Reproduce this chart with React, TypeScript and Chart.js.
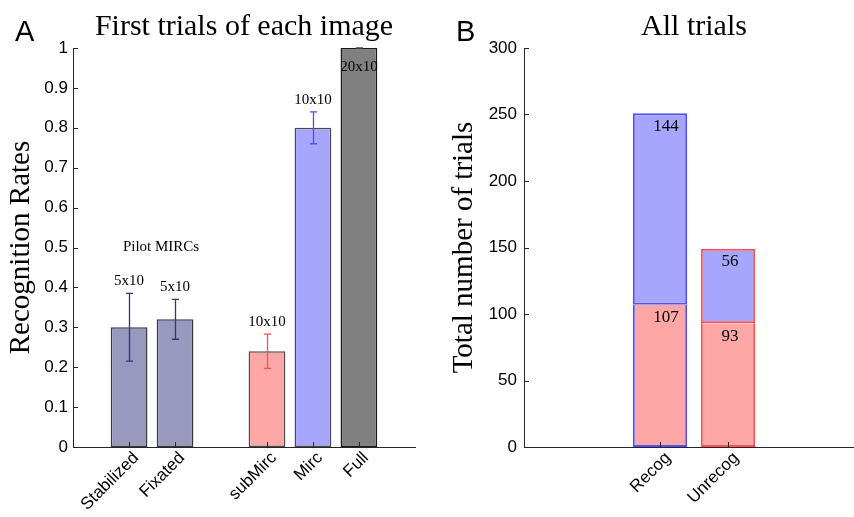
import React, { useEffect, useRef } from 'react';
import { Chart, registerables } from 'chart.js';

Chart.register(...registerables);

// ---------- Panel A data ----------
const conditionLabels = ['Stabilized', 'Fixated', 'subMirc', 'Mirc', 'Full'];
const conditionPositions = [1, 2, 4, 5, 6];
const recognitionRates = [0.30, 0.32, 0.24, 0.80, 1.00];
const rateErrors = [0.085, 0.05, 0.043, 0.04, 0.0];
const sizeLabels = ['5x10', '5x10', '10x10', '10x10', '20x10'];
const rateTicks = [0, 0.1, 0.2, 0.3, 0.4, 0.5, 0.6, 0.7, 0.8, 0.9, 1];
const pilotNote = 'Pilot MIRCs';
const titleA = 'First trials of each image';

// ---------- Panel B data ----------
const trialLabels = ['Recog', 'Unrecog'];
const trialPositions = [1, 2];
const lowerCounts = [107, 93];
const upperCounts = [144, 56];
const countTicks = [0, 50, 100, 150, 200, 250, 300];
const titleB = 'All trials';

// ---------- styles ----------
const SERIF = '"Liberation Serif", "Times New Roman", serif';
const SANS = '"Liberation Sans", Arial, Helvetica, sans-serif';
const AXIS = '#262626';
const fillsA = ['#9999bf', '#9999bf', '#ffa6a6', '#a6a6ff', '#808080'];
const errColorsA = ['#33337f', '#33337f', '#ff4d4d', '#4d4dff', '#404040'];
const edgeA = ['#3a3a3a', '#3a3a3a', '#4a4a4a', '#4a4a4a', '#1a1a1a'];
const redFill = '#ffa6a6';
const blueFill = '#a6a6ff';
const edgeB = ['#5050ff', '#ff5050'];

function inwardTicks(chart: any, xVals: number[], yVals: number[]) {
  const { ctx, chartArea } = chart;
  const xs = chart.scales.x;
  const ys = chart.scales.y;
  ctx.save();
  ctx.strokeStyle = AXIS;
  ctx.lineWidth = 1;
  ctx.beginPath();
  for (const v of yVals) {
    const py = Math.round(ys.getPixelForValue(v)) + 0.5;
    ctx.moveTo(chartArea.left, py);
    ctx.lineTo(chartArea.left + 5, py);
  }
  for (const v of xVals) {
    const px = Math.round(xs.getPixelForValue(v)) + 0.5;
    ctx.moveTo(px, chartArea.bottom);
    ctx.lineTo(px, chartArea.bottom - 5);
  }
  ctx.stroke();
  ctx.restore();
}

function drawTitle(chart: any, text: string) {
  const { ctx, chartArea } = chart;
  ctx.save();
  ctx.fillStyle = '#000';
  ctx.font = `30px ${SERIF}`;
  ctx.textAlign = 'center';
  ctx.textBaseline = 'alphabetic';
  ctx.fillText(text, (chartArea.left + chartArea.right) / 2, 35);
  ctx.restore();
}

function drawPanelLetter(chart: any, letter: string, x: number) {
  const { ctx } = chart;
  ctx.save();
  ctx.fillStyle = '#000';
  ctx.font = `29px ${SANS}`;
  ctx.textAlign = 'left';
  ctx.textBaseline = 'alphabetic';
  ctx.fillText(letter, x, 41);
  ctx.restore();
}

const panelAPlugin = {
  id: 'panelA',
  afterDatasetsDraw(chart: any) {
    const { ctx } = chart;
    const xs = chart.scales.x;
    const ys = chart.scales.y;
    ctx.save();
    // error bars
    conditionPositions.forEach((pos, i) => {
      const px = Math.round(xs.getPixelForValue(pos)) + 0.5;
      const top = ys.getPixelForValue(recognitionRates[i] + rateErrors[i]);
      const bot = ys.getPixelForValue(recognitionRates[i] - rateErrors[i]);
      ctx.strokeStyle = errColorsA[i];
      ctx.lineWidth = 1.3;
      ctx.beginPath();
      ctx.moveTo(px, top);
      ctx.lineTo(px, bot);
      ctx.moveTo(px - 3.5, top);
      ctx.lineTo(px + 3.5, top);
      ctx.moveTo(px - 3.5, bot);
      ctx.lineTo(px + 3.5, bot);
      ctx.stroke();
    });
    // size annotations
    ctx.fillStyle = '#000';
    ctx.font = `15px ${SERIF}`;
    ctx.textAlign = 'center';
    ctx.textBaseline = 'middle';
    conditionPositions.forEach((pos, i) => {
      const topVal = recognitionRates[i] + rateErrors[i];
      const yVal = topVal >= 1 ? topVal - 0.048 : topVal + 0.03;
      ctx.fillText(sizeLabels[i], xs.getPixelForValue(pos), ys.getPixelForValue(yVal));
    });
    // pilot note, centred above the two pilot bars
    const pilotX = (xs.getPixelForValue(conditionPositions[0]) + xs.getPixelForValue(conditionPositions[1])) / 2 + 9;
    const pilotTop = Math.max(recognitionRates[0] + rateErrors[0], recognitionRates[1] + rateErrors[1]);
    ctx.fillText(pilotNote, pilotX, ys.getPixelForValue(pilotTop) - 46);
    ctx.restore();
    inwardTicks(chart, conditionPositions, rateTicks);
    drawTitle(chart, titleA);
    drawPanelLetter(chart, 'A', 15);
  },
};

const panelBPlugin = {
  id: 'panelB',
  afterDatasetsDraw(chart: any) {
    const { ctx } = chart;
    const xs = chart.scales.x;
    const ys = chart.scales.y;
    ctx.save();
    ctx.fillStyle = '#000';
    ctx.font = `17px ${SERIF}`;
    ctx.textAlign = 'center';
    ctx.textBaseline = 'middle';
    trialPositions.forEach((pos, i) => {
      const px = xs.getPixelForValue(pos) + (i === 0 ? 6 : 2);
      const lowTop = lowerCounts[i];
      const upTop = lowerCounts[i] + upperCounts[i];
      ctx.fillText(String(upperCounts[i]), px, ys.getPixelForValue(upTop) + 13);
      ctx.fillText(String(lowerCounts[i]), px, ys.getPixelForValue(lowTop) + 13);
    });
    ctx.restore();
    inwardTicks(chart, trialPositions, countTicks);
    drawTitle(chart, titleB);
    drawPanelLetter(chart, 'B', 26);
  },
};

function fmtRate(v: number) {
  return String(Number(v.toFixed(1)));
}

export default function App() {
  const refA = useRef<HTMLCanvasElement>(null);
  const refB = useRef<HTMLCanvasElement>(null);

  useEffect(() => {
    const common = {
      animation: false as const,
      responsive: false,
      maintainAspectRatio: false,
      devicePixelRatio: 1,
    };
    const xTickFont = { family: SANS, size: 17 };

    const chartA = new Chart(refA.current as HTMLCanvasElement, {
      type: 'bar',
      data: {
        datasets: [
          {
            data: conditionPositions.map((x, i) => ({ x, y: recognitionRates[i] })),
            backgroundColor: fillsA,
            borderColor: edgeA,
            borderWidth: 1.5,
            borderSkipped: false,
            barPercentage: 0.8,
            categoryPercentage: 1,
          } as any,
        ],
      },
      options: {
        ...common,
        layout: { padding: { left: 0, right: 15, top: 48, bottom: 0 } },
        plugins: {
          legend: { display: false },
          tooltip: { enabled: false },
          title: { display: false },
        },
        scales: {
          x: {
            type: 'linear',
            min: -0.22,
            max: 7.22,
            offset: false,
            grid: { display: false, drawTicks: false },
            border: { display: true, color: AXIS, width: 1 },
            afterBuildTicks: (s: any) => {
              s.ticks = conditionPositions.map((v) => ({ value: v }));
            },
            ticks: {
              autoSkip: false,
              maxRotation: 45,
              minRotation: 45,
              padding: 1,
              labelOffset: 7,
              color: '#000',
              font: xTickFont,
              callback: (v: any) => {
                const idx = conditionPositions.indexOf(Number(v));
                return idx >= 0 ? conditionLabels[idx] : '';
              },
            },
            afterFit: (s: any) => {
              s.height = 70;
            },
          },
          y: {
            min: 0,
            max: 1,
            grid: { display: false, drawTicks: false },
            border: { display: true, color: AXIS, width: 1 },
            afterBuildTicks: (s: any) => {
              s.ticks = rateTicks.map((v) => ({ value: v }));
            },
            ticks: {
              padding: 5,
              color: '#000',
              font: { family: SANS, size: 17 },
              callback: (v: any) => fmtRate(Number(v)),
            },
            title: {
              display: true,
              text: 'Recognition Rates',
              color: '#000',
              font: { family: SERIF, size: 29, weight: 'normal', lineHeight: 1.2 },
              padding: { top: 4, bottom: 0 },
            },
            afterFit: (s: any) => {
              s.width = 73;
            },
          },
        },
      } as any,
      plugins: [panelAPlugin],
    });

    const chartB = new Chart(refB.current as HTMLCanvasElement, {
      type: 'bar',
      data: {
        datasets: [
          {
            data: trialPositions.map((x, i) => ({ x, y: lowerCounts[i] })),
            backgroundColor: redFill,
            borderColor: edgeB,
            borderWidth: 2,
            borderSkipped: 'top',
            barPercentage: 0.8,
            categoryPercentage: 1,
          } as any,
          {
            data: trialPositions.map((x, i) => ({ x, y: upperCounts[i] })),
            backgroundColor: blueFill,
            borderColor: edgeB,
            borderWidth: 2,
            borderSkipped: false,
            barPercentage: 0.8,
            categoryPercentage: 1,
          } as any,
        ],
      },
      options: {
        ...common,
        layout: { padding: { left: 0, right: 6, top: 48, bottom: 0 } },
        plugins: {
          legend: { display: false },
          tooltip: { enabled: false },
          title: { display: false },
        },
        scales: {
          x: {
            type: 'linear',
            stacked: true,
            min: -1,
            max: 4,
            offset: false,
            grid: { display: false, drawTicks: false },
            border: { display: true, color: AXIS, width: 1 },
            afterBuildTicks: (s: any) => {
              s.ticks = trialPositions.map((v) => ({ value: v }));
            },
            ticks: {
              autoSkip: false,
              maxRotation: 45,
              minRotation: 45,
              padding: 1,
              labelOffset: 8,
              color: '#000',
              font: xTickFont,
              callback: (v: any) => {
                const idx = trialPositions.indexOf(Number(v));
                return idx >= 0 ? trialLabels[idx] : '';
              },
            },
            afterFit: (s: any) => {
              s.height = 70;
            },
          },
          y: {
            stacked: true,
            min: 0,
            max: 300,
            grid: { display: false, drawTicks: false },
            border: { display: true, color: AXIS, width: 1 },
            afterBuildTicks: (s: any) => {
              s.ticks = countTicks.map((v) => ({ value: v }));
            },
            ticks: {
              padding: 7,
              color: '#000',
              font: { family: SANS, size: 17 },
              callback: (v: any) => String(v),
            },
            title: {
              display: true,
              text: 'Total number of trials',
              color: '#000',
              font: { family: SERIF, size: 29, weight: 'normal', lineHeight: 1.2 },
              padding: { top: 17, bottom: 0 },
            },
            afterFit: (s: any) => {
              s.width = 94;
            },
          },
        },
      } as any,
      plugins: [panelBPlugin],
    });

    return () => {
      chartA.destroy();
      chartB.destroy();
    };
  }, []);

  return (
    <div
      style={{
        position: 'fixed',
        left: 0,
        top: 0,
        width: 854,
        height: 517,
        overflow: 'hidden',
        background: '#fff',
      }}
    >
      <canvas
        ref={refA}
        width={430}
        height={517}
        style={{ position: 'absolute', left: 0, top: 0, width: 430, height: 517 }}
      />
      <canvas
        ref={refB}
        width={440}
        height={517}
        style={{ position: 'absolute', left: 430, top: 0, width: 440, height: 517 }}
      />
    </div>
  );
}
